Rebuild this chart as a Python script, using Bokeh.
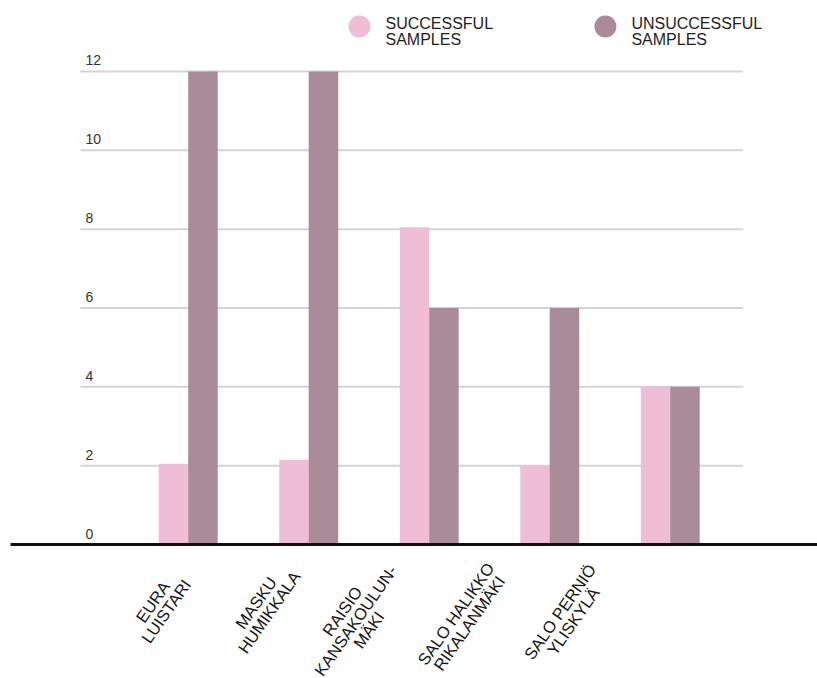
from bokeh.plotting import figure
from bokeh.models import Range1d, ColumnDataSource
from bokeh.core.properties import value
from bokeh.embed import file_html
from bokeh.resources import INLINE

# Sample outcomes per site
sites = ["EURA\nLUISTARI", "MASKU\nHUMIKKALA", "RAISIO\nKANSAKOULUN-\nMÄKI",
         "SALO HALIKKO\nRIKALANMÄKI", "SALO PERNIÖ\nYLISKYLÄ"]
successful = [2.05, 2.15, 8.05, 2.0, 4.0]
unsuccessful = [12, 12, 6, 6, 4]
y_ticks = [0, 2, 4, 6, 8, 10, 12]
y_tick_labels = ["0", "2", "4", "6", "8", "10", "12"]
series_names = ["SUCCESSFUL\nSAMPLES", "UNSUCCESSFUL\nSAMPLES"]

PINK = "#f0bdd6"
MAUVE = "#a98b9a"
FONT = "Liberation Sans"

W, H = 817, 678
idx = list(range(len(sites)))

p = figure(width=W, height=H, output_backend="svg", toolbar_location=None,
           min_border=0, x_range=Range1d(-1.560, 5.220), y_range=Range1d(-3.399, 13.80))
p.axis.visible = False
p.grid.visible = False
p.outline_line_color = None
p.background_fill_color = "white"
p.border_fill_color = "white"

# light horizontal guides
p.segment(x0=-0.896, x1=4.6, y0=y_ticks[1:], y1=y_ticks[1:],
          line_color="#d4d4d4", line_width=2)

# tick values sit just above each guide
p.text(x=[-0.855] * len(y_ticks), y=y_ticks, text=y_tick_labels,
       text_font=value(FONT), text_font_size="14px", text_color="#333333",
       text_baseline="bottom", text_align="left", y_offset=-6)

# grouped bars
bw = 0.245
p.vbar(x=[i - 0.124 for i in idx], top=successful, bottom=0, width=bw,
       fill_color=PINK, line_color=None)
p.vbar(x=[i + 0.120 for i in idx], top=unsuccessful, bottom=0, width=bw,
       fill_color=MAUVE, line_color=None)

# heavy baseline
p.segment(x0=[-1.477], x1=[5.3], y0=[0], y1=[0], line_color="#111111", line_width=3)

# rotated category labels under the baseline
lab = ColumnDataSource(dict(
    x=idx, y=[0] * len(idx), text=sites,
    dx=[-29, -46.5, -74, -87.5, -104],
    dy=[62, 63, 76, 74, 72],
))
p.text(x="x", y="y", text="text", source=lab, x_offset="dx", y_offset="dy",
       angle=55, angle_units="deg", text_align="center", text_baseline="middle",
       text_font=value(FONT), text_font_size="16.5px", text_color="#151515",
       text_line_height=0.9)

# legend: dot + two-line caption
leg_x = [1.419, 3.46]
leg_y = [13.14, 13.14]
p.scatter(x=leg_x, y=leg_y, size=22, marker="circle",
          fill_color=[PINK, MAUVE], line_color=None)
p.text(x=leg_x, y=leg_y, text=series_names, x_offset=26, y_offset=5,
       text_font=value(FONT), text_font_size="16px", text_color="#1e1e1e",
       text_baseline="middle", text_align="left", text_line_height=0.95)

open("out.html", "w").write(file_html(p, INLINE))
